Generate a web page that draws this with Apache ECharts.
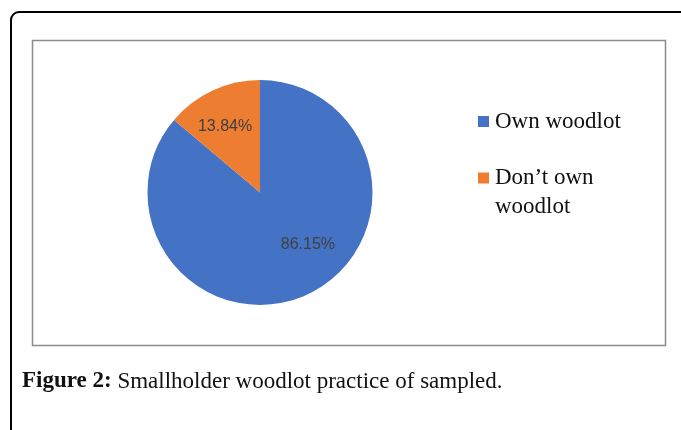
<!DOCTYPE html>
<html>
<head>
<meta charset="utf-8">
<script src="https://cdn.jsdelivr.net/npm/echarts@6/dist/echarts.min.js"></script>
<style>
  html, body { margin: 0; padding: 0; background: #fff; }
  #chart { width: 681px; height: 430px; }
</style>
</head>
<body>
<div id="chart"></div>
<script>
// 数据
const categories = ['Own woodlot', 'Don\u2019t own woodlot']
const shares = [86.15, 13.84]
const sliceColors = ['#4472C4', '#ED7D31']
const captionBold = 'Figure 2:'
const captionText = 'Smallholder woodlot practice of sampled.'

const myChart = echarts.init(document.getElementById('chart'))
myChart.setOption({
  backgroundColor: '#fff',
  animation: false,
  title: {
    left: 22,
    top: 370,
    padding: 0,
    text: '{b|' + captionBold + '}{n| ' + captionText + '}',
    textStyle: {
      fontWeight: 'normal',
      rich: {
        b: { fontFamily: 'Liberation Serif', fontWeight: 'bold', fontSize: 23, color: '#111' },
        n: { fontFamily: 'Liberation Serif', fontWeight: 'normal', fontSize: 23, color: '#111' },
      },
    },
  },
  legend: {
    orient: 'vertical',
    left: 478,
    top: 107,
    padding: 0,
    itemGap: -1.5,
    itemWidth: 11,
    itemHeight: 11,
    icon: 'rect',
    // 第二项两行文字，前面加空行让图标对齐第一行
    formatter: (name) => (name === categories[1] ? '\nDon\u2019t own\nwoodlot' : name),
    textStyle: {
      fontFamily: 'Liberation Serif',
      fontSize: 23,
      color: '#111',
      lineHeight: 29,
      padding: [0, 0, 0, 1],
    },
    data: categories,
  },
  graphic: [
    {
      type: 'rect',
      shape: { x: 11, y: 12, width: 700, height: 460, r: 8 },
      style: { fill: 'none', stroke: '#000', lineWidth: 2 },
      silent: true,
    },
    {
      type: 'rect',
      shape: { x: 32.5, y: 40.5, width: 633, height: 305 },
      style: { fill: 'none', stroke: '#8c8c8c', lineWidth: 1.5 },
      silent: true,
    },
  ],
  series: [
    {
      type: 'pie',
      center: [260, 192.5],
      radius: 112.5,
      startAngle: 90,
      clockwise: true,
      label: {
        show: true,
        position: 'inside',
        fontFamily: 'Liberation Sans',
        fontSize: 16,
        color: '#404040',
        formatter: (p) => p.value.toFixed(2) + '%',
      },
      labelLine: { show: false },
      labelLayout: (p) => (p.dataIndex === 0 ? { dx: 23, dy: -2 } : { dx: -10, dy: -12 }),
      emphasis: { disabled: true },
      data: categories.map((name, i) => ({
        name: name,
        value: shares[i],
        itemStyle: { color: sliceColors[i] },
      })),
    },
  ],
})
</script>
</body>
</html>
